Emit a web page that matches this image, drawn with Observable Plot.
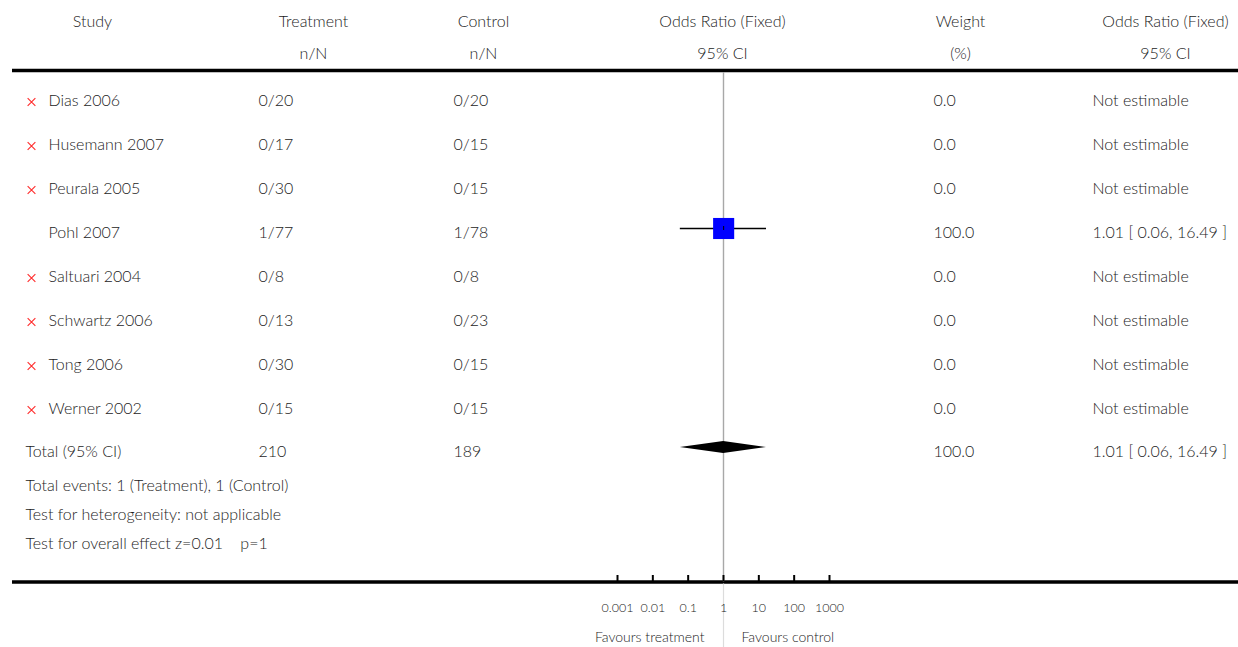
<!DOCTYPE html>
<html>
<head>
<meta charset="utf-8">
<script src="https://cdn.jsdelivr.net/npm/d3@7"></script>
<script src="https://cdn.jsdelivr.net/npm/@observablehq/plot@0.6"></script>
<style>
  html, body { margin: 0; padding: 0; background: #fff; }
  #wrap { position: relative; width: 1238px; height: 647px; overflow: hidden; }
  #wrap svg { position: absolute; top: 0; }
</style>
</head>
<body>
<div id="wrap"></div>
<script>
// ---------- data ----------
const studies   = ["Dias 2006","Husemann 2007","Peurala 2005","Pohl 2007","Saltuari 2004","Schwartz 2006","Tong 2006","Werner 2002"];
const treatment = ["0/20","0/17","0/30","1/77","0/8","0/13","0/30","0/15"];
const control   = ["0/20","0/15","0/15","1/78","0/8","0/23","0/15","0/15"];
const weights   = [0.0, 0.0, 0.0, 100.0, 0.0, 0.0, 0.0, 0.0];
const orEst     = [null, null, null, 1.01, null, null, null, null];
const orLow     = [null, null, null, 0.06, null, null, null, null];
const orHigh    = [null, null, null, 16.49, null, null, null, null];

const totalLabel     = "Total (95% CI)";
const totalTreatment = 210;
const totalControl   = 189;
const totalWeight    = 100.0;
const totalEst       = 1.01;
const totalLow       = 0.06;
const totalHigh      = 16.49;

const summaryLines = [
  "Total events: 1 (Treatment), 1 (Control)",
  "Test for heterogeneity: not applicable",
  "Test for overall effect z=0.01    p=1"
];
const headerTop    = ["Study","Treatment","Control","Odds Ratio (Fixed)","Weight","Odds Ratio (Fixed)"];
const headerBottom = ["","n/N","n/N","95% CI","(%)","95% CI"];
const axisTicks      = [0.001, 0.01, 0.1, 1, 10, 100, 1000];
const axisTickLabels = ["0.001","0.01","0.1","1","10","100","1000"];
const favoursLabels  = ["Favours treatment","Favours control"];

// ---------- layout (positions & styles only) ----------
const W = 1238, H = 647;
const FONT = "Lato, 'Open Sans', sans-serif";
const WEIGHT = 300;
const TXT = "#1c1c1c";
const headerCenters = [92, 313, 483, 722, 960, 1165];
const headerY = [21, 53];
const colX = { marker: 31, study: 48, total: 25, treat: 258, ctrl: 453, weight: 933, ci: 1092 };
const rowY = i => 100 + 44 * i;
const totalY = 451;
const summaryY = k => 485 + 29 * k;
const ruleTopY = 70, ruleBottomY = 581.5;
const graphicShift = -4; // graphics sit slightly above text centres

const fmtCI = (e, l, h) => `${e.toFixed(2)} [ ${l.toFixed(2)}, ${h.toFixed(2)} ]`;

const rows = studies.map((s, i) => ({
  study: s, treat: treatment[i], ctrl: control[i],
  weight: weights[i].toFixed(1),
  est: orEst[i], lo: orLow[i], hi: orHigh[i],
  ciText: orEst[i] == null ? "Not estimable" : fmtCI(orEst[i], orLow[i], orHigh[i]),
  y: rowY(i)
}));
const headers = headerTop.map((t, i) => ({ top: t, bottom: headerBottom[i], x: headerCenters[i] }));
const summaries = summaryLines.map((t, k) => ({ text: t, y: summaryY(k) }));
const totalRow = [{ label: totalLabel, treat: String(totalTreatment), ctrl: String(totalControl),
  weight: totalWeight.toFixed(1), ciText: fmtCI(totalEst, totalLow, totalHigh), y: totalY }];

const textOpts = { fontFamily: FONT, fontSize: 16, fontWeight: WEIGHT, fill: TXT };

// ---------- table plot ----------
const table = Plot.plot({
  width: W, height: H, margin: 0,
  style: { background: "transparent", overflow: "visible" },
  x: { type: "linear", domain: [0, W], range: [0, W], axis: null },
  y: { type: "linear", domain: [0, H], range: [0, H], axis: null },
  marks: [
    Plot.text(headers, { x: "x", y: () => headerY[0], text: "top", textAnchor: "middle", ...textOpts }),
    Plot.text(headers, { x: "x", y: () => headerY[1], text: "bottom", textAnchor: "middle", ...textOpts }),
    Plot.ruleY([ruleTopY, ruleBottomY], { x1: 12, x2: W, stroke: "#000", strokeWidth: 3.5 }),
    Plot.dot(rows.filter(r => r.est == null), { x: () => colX.marker, y: d => d.y + 1.5, symbol: "times", r: 3.6, stroke: "#ff2a2a", strokeWidth: 1.1 }),
    Plot.text(rows, { x: () => colX.study, y: "y", text: "study", textAnchor: "start", ...textOpts }),
    Plot.text(rows, { x: () => colX.treat, y: "y", text: "treat", textAnchor: "start", ...textOpts }),
    Plot.text(rows, { x: () => colX.ctrl, y: "y", text: "ctrl", textAnchor: "start", ...textOpts }),
    Plot.text(rows, { x: () => colX.weight, y: "y", text: "weight", textAnchor: "start", ...textOpts }),
    Plot.text(rows, { x: () => colX.ci, y: "y", text: "ciText", textAnchor: "start", ...textOpts }),
    Plot.text(totalRow, { x: () => colX.total, y: "y", text: "label", textAnchor: "start", ...textOpts }),
    Plot.text(totalRow, { x: () => colX.treat, y: "y", text: "treat", textAnchor: "start", ...textOpts }),
    Plot.text(totalRow, { x: () => colX.ctrl, y: "y", text: "ctrl", textAnchor: "start", ...textOpts }),
    Plot.text(totalRow, { x: () => colX.weight, y: "y", text: "weight", textAnchor: "start", ...textOpts }),
    Plot.text(totalRow, { x: () => colX.ci, y: "y", text: "ciText", textAnchor: "start", ...textOpts }),
    Plot.text(summaries, { x: () => colX.total, y: "y", text: "text", textAnchor: "start", ...textOpts, style: "white-space: pre" })
  ]
});
table.style.left = "0px";
document.getElementById("wrap").appendChild(table);

// ---------- forest plot (log scale) ----------
const FL = 580, FW = 290;
const estRows = rows.filter(r => r.est != null);
const diamondHalf = 6;
const cy = totalY + graphicShift;
const diamond = [
  { x: totalLow,  y1: cy, y2: cy },
  { x: totalEst,  y1: cy - diamondHalf, y2: cy + diamondHalf },
  { x: totalHigh, y1: cy, y2: cy }
];
const tickData = axisTicks.map((t, i) => ({ t, label: axisTickLabels[i] }));

const forest = Plot.plot({
  width: FW, height: H, margin: 0,
  style: { background: "transparent", overflow: "visible" },
  x: { type: "log", domain: [0.001, 1000], range: [617 - FL, 829 - FL], axis: null },
  y: { type: "linear", domain: [0, H], range: [0, H], axis: null },
  marks: [
    Plot.ruleX([1], { y1: ruleTopY + 2, y2: ruleBottomY, stroke: "#a8a8a8", strokeWidth: 1.4 }),
    Plot.ruleX([1], { y1: ruleBottomY + 2, y2: H, stroke: "#dcdcdc", strokeWidth: 1.2 }),
    Plot.ruleY(estRows, { x1: "lo", x2: "hi", y: d => d.y + graphicShift, stroke: "#000", strokeWidth: 1.4 }),
    Plot.dot(estRows, { x: "est", y: d => d.y + graphicShift, symbol: "square", r: 11.9, fill: "#0000ff", stroke: "none" }),
    Plot.ruleX(estRows, { x: "est", y1: d => d.y + graphicShift - 2, y2: d => d.y + graphicShift + 2, stroke: "#000", strokeWidth: 1 }),
    Plot.areaY(diamond, { x: "x", y1: "y1", y2: "y2", fill: "#000", curve: "linear" }),
    Plot.ruleX(tickData, { x: "t", y1: ruleBottomY - 6.5, y2: ruleBottomY, stroke: "#000", strokeWidth: 2 }),
    Plot.text(tickData, { x: "t", y: () => 607, text: "label", textAnchor: "middle", fontFamily: FONT, fontWeight: WEIGHT, fontSize: 12.5, fill: TXT }),
    Plot.text([favoursLabels[0]], { x: () => 1, y: () => 637, text: d => d, textAnchor: "end", dx: -19, fontFamily: FONT, fontWeight: WEIGHT, fontSize: 14, fill: TXT }),
    Plot.text([favoursLabels[1]], { x: () => 1, y: () => 637, text: d => d, textAnchor: "start", dx: 18, fontFamily: FONT, fontWeight: WEIGHT, fontSize: 14, fill: TXT })
  ]
});
forest.style.left = FL + "px";
document.getElementById("wrap").appendChild(forest);
</script>
</body>
</html>
